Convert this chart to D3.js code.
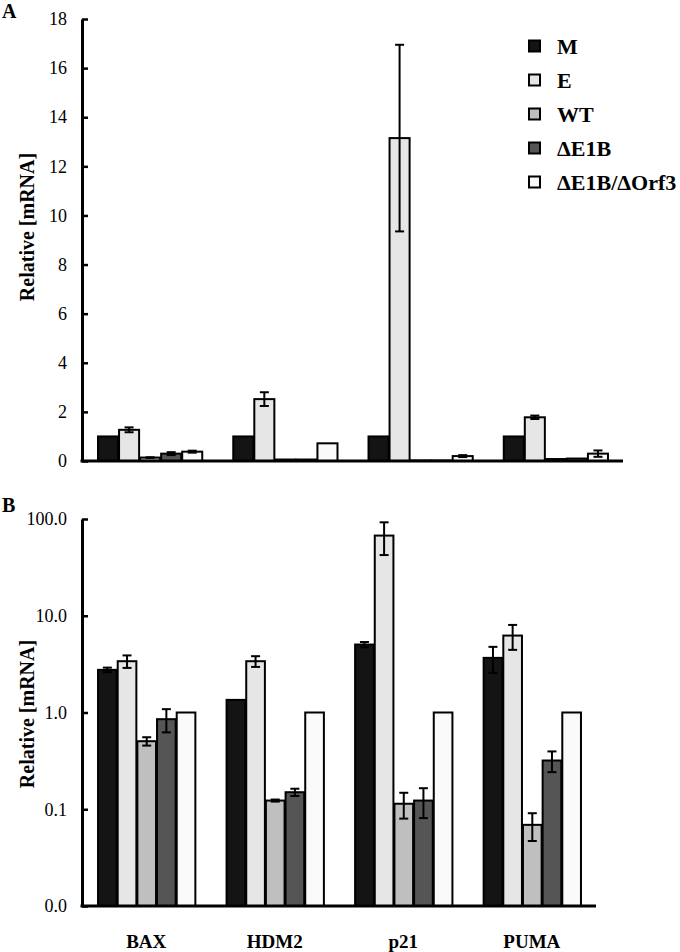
<!DOCTYPE html>
<html>
<head>
<meta charset="utf-8">
<script src="https://cdn.jsdelivr.net/npm/d3@7"></script>
<style>
  html, body { margin: 0; padding: 0; background: #fff; }
  svg { display: block; }
  text { font-family: "Liberation Serif", "Times New Roman", serif; fill: #000; }
</style>
</head>
<body>
<svg id="chart" width="680" height="952"></svg>
<script>
// ---------------- data ----------------
const categories = ["BAX", "HDM2", "p21", "PUMA"];
const seriesNames = ["M", "E", "WT", "\u0394E1B", "\u0394E1B/\u0394Orf3"];
const seriesColors = ["#141414", "#e6e6e6", "#bfbfbf", "#555555", "#fafafa"];

// Panel A (linear), values per category in series order
const valuesA = [
  [1.0, 1.27, 0.14, 0.30, 0.38],
  [1.0, 2.52, 0.06, 0.06, 0.72],
  [1.0, 13.15, 0.02, 0.02, 0.20],
  [1.0, 1.78, 0.08, 0.10, 0.30]
];
const errorsA = [
  [0.0, 0.10, 0.01, 0.06, 0.04],
  [0.0, 0.28, 0.0, 0.0, 0.0],
  [0.0, 3.8, 0.0, 0.0, 0.04],
  [0.0, 0.07, 0.0, 0.0, 0.13]
];
const ticksA = [0, 2, 4, 6, 8, 10, 12, 14, 16, 18];

// Panel B (log)
const valuesB = [
  [2.76, 3.39, 0.505, 0.853, 1.0],
  [1.35, 3.39, 0.123, 0.150, 1.0],
  [5.04, 67.4, 0.114, 0.123, 1.0],
  [3.67, 6.24, 0.069, 0.319, 1.0]
];
const errorsB = [
  [0.15, 0.5, 0.05, 0.23, 0.0],
  [0.0, 0.43, 0.003, 0.013, 0.0],
  [0.31, 25.0, 0.034, 0.042, 0.0],
  [1.1, 1.8, 0.022, 0.077, 0.0]
];
const ticksB = [0.01, 0.1, 1, 10, 100];

// ---------------- drawing ----------------
const svg = d3.select("#chart");

function drawPanel(opts) {
  const { y, x0, values, errors, ticks, tickFormat, showCats } = opts;
  const x1 = d3.scaleBand().domain(d3.range(seriesNames.length)).range([0, x0.bandwidth()]).padding(0);
  const g = svg.append("g");
  const yBase = y.range()[0];

  categories.forEach((cat, ci) => {
    const gg = g.append("g").attr("transform", `translate(${x0(cat)},0)`);
    const rows = values[ci].map((v, si) => ({ v, e: errors[ci][si], si }));
    gg.selectAll("rect").data(rows).join("rect")
      .attr("x", d => x1(d.si) + 1)
      .attr("width", x1.bandwidth() - 1)
      .attr("y", d => y(d.v))
      .attr("height", d => yBase - y(d.v))
      .attr("fill", d => seriesColors[d.si])
      .attr("stroke", "#000")
      .attr("stroke-width", 2);
    const eb = rows.filter(d => d.e > 0);
    const cx = d => x1(d.si) + x1.bandwidth() / 2 + 0.5;
    gg.selectAll("line.err").data(eb).join("line").attr("class", "err")
      .attr("x1", cx).attr("x2", cx)
      .attr("y1", d => y(d.v + d.e)).attr("y2", d => y(Math.max(d.v - d.e, y.domain()[0])))
      .attr("stroke", "#000").attr("stroke-width", 2);
    gg.selectAll("line.capt").data(eb).join("line").attr("class", "capt")
      .attr("x1", d => cx(d) - 4.5).attr("x2", d => cx(d) + 4.5)
      .attr("y1", d => y(d.v + d.e)).attr("y2", d => y(d.v + d.e))
      .attr("stroke", "#000").attr("stroke-width", 2);
    gg.selectAll("line.capb").data(eb).join("line").attr("class", "capb")
      .attr("x1", d => cx(d) - 4.5).attr("x2", d => cx(d) + 4.5)
      .attr("y1", d => y(Math.max(d.v - d.e, y.domain()[0]))).attr("y2", d => y(Math.max(d.v - d.e, y.domain()[0])))
      .attr("stroke", "#000").attr("stroke-width", 2);
  });

  // y axis
  const axisX = x0.range()[0];
  const yAxis = d3.axisLeft(y).tickValues(ticks).tickFormat(tickFormat)
    .tickSizeInner(-6).tickSizeOuter(0).tickPadding(15);
  const ga = svg.append("g").attr("transform", `translate(${axisX},0)`).call(yAxis);
  ga.select(".domain").attr("stroke", "#000").attr("stroke-width", 3);
  ga.selectAll(".tick line").attr("stroke", "#000").attr("stroke-width", 2.5);
  ga.selectAll(".tick text").style("font-family", "'Liberation Serif', serif").style("font-size", "18px");

  // x axis line
  const xAxis = d3.axisBottom(x0).tickSize(0).tickSizeOuter(0).tickPadding(29);
  const gx = svg.append("g").attr("transform", `translate(0,${yBase})`).call(xAxis);
  gx.select(".domain").attr("stroke", "#000").attr("stroke-width", 3)
    .attr("d", `M${axisX - 1.5},0H${x0.range()[1]}`);
  gx.selectAll(".tick text")
    .style("font-family", "'Liberation Serif', serif").style("font-size", "19px").style("font-weight", "bold")
    .style("display", showCats ? null : "none");
}

// Panel A
const yA = d3.scaleLinear().domain([0, 18]).range([461, 19]);
const x0A = d3.scaleBand().domain(categories).range([82, 623]).paddingInner(0.222).paddingOuter(0.111);
drawPanel({ y: yA, x0: x0A, values: valuesA, errors: errorsA, ticks: ticksA, tickFormat: d3.format("d"), showCats: false });

// Panel B
const yB = d3.scaleLog().domain([0.01, 100]).range([906, 519]);
const x0B = d3.scaleBand().domain(categories).range([82, 596]).paddingInner(0.235).paddingOuter(0.117);
drawPanel({ y: yB, x0: x0B, values: valuesB, errors: errorsB, ticks: ticksB, tickFormat: d3.format(".1f"), showCats: true });

// Axis titles
svg.append("text").attr("transform", "translate(34,227) rotate(-90)")
  .attr("text-anchor", "middle").style("font-size", "20px").style("font-weight", "bold")
  .text("Relative [mRNA]");
svg.append("text").attr("transform", "translate(34,714) rotate(-90)")
  .attr("text-anchor", "middle").style("font-size", "20px").style("font-weight", "bold")
  .text("Relative [mRNA]");

// Panel letters
svg.append("text").attr("x", 2).attr("y", 18).style("font-size", "20px").style("font-weight", "bold").text("A");
svg.append("text").attr("x", 2).attr("y", 512).style("font-size", "20px").style("font-weight", "bold").text("B");

// Legend
const legend = svg.append("g").attr("transform", "translate(529,46)");
const lg = legend.selectAll("g").data(seriesNames).join("g")
  .attr("transform", (d, i) => `translate(0,${i * 34})`);
lg.append("rect").attr("x", 0).attr("y", -5.5).attr("width", 11).attr("height", 11)
  .attr("fill", (d, i) => seriesColors[i]).attr("stroke", "#000").attr("stroke-width", 2);
lg.append("text").attr("x", 28).attr("y", 8).style("font-size", "22px").style("font-weight", "bold")
  .text(d => d);
</script>
</body>
</html>
